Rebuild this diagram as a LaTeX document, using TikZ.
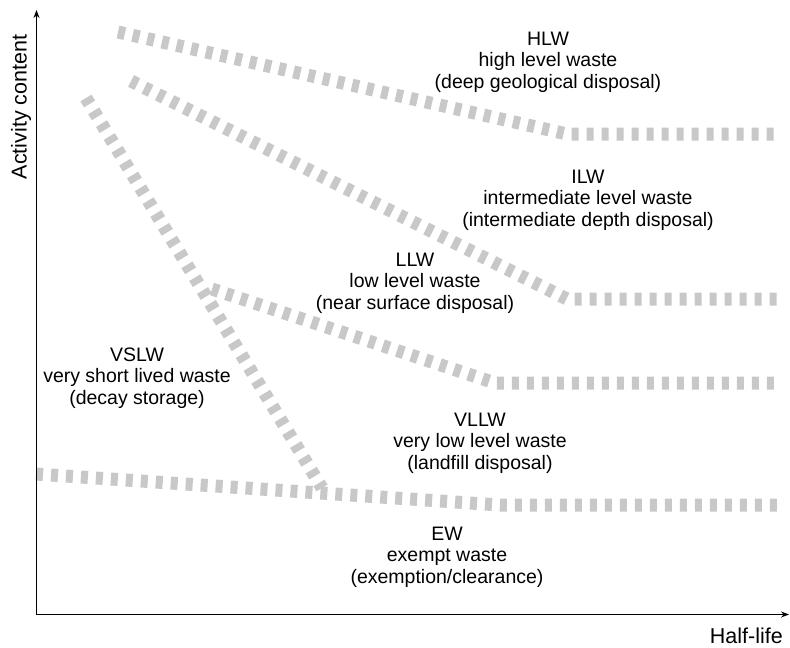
\documentclass[tikz,border=0pt]{standalone}
\usepackage{fontspec}
\setmainfont{Liberation Sans}
\usetikzlibrary{arrows.meta}
\definecolor{bandgray}{RGB}{200,200,200}
\begin{document}
\begin{tikzpicture}[x=1pt, y=-1pt, >={Stealth[length=8pt, width=6pt]},
    band/.style={draw=bandgray, line width=13pt, dash pattern=on 7pt off 8pt},
    zone/.style={align=center, inner sep=0pt, font=\fontsize{19.5}{21.5}\selectfont},
    axlabel/.style={inner sep=0pt, font=\fontsize{21.5}{24}\selectfont}]
    \useasboundingbox (0,0) rectangle (790,648);
    % boundaries between the classes
    \draw[band] (118,32) -- (567,134) -- (780,134);
    \draw[band] (131,81) -- (567,299) -- (780,299);
    \draw[band] (212,289) -- (495,383) -- (780,383);
    \draw[band] (36,474) -- (500,505) -- (780,505);
    \draw[band] (86,98) -- (322,488);
    % axes
    \coordinate (origin) at (36.5,614.5);
    \coordinate (ytip) at (36.5,10);
    \coordinate (xtip) at (789,614.5);
    \draw[->, line width=1.3pt] (origin) -- (ytip);
    \draw[->, line width=1.3pt] (origin) -- (xtip);
    \node (ylabel) [axlabel, rotate=90] at (21,107) {Activity content};
    \node (xlabel) [axlabel, anchor=base east] at (783,643) {Half-life};
    % classes
    \node (hlw) [zone] at (548,62) {HLW\\high level waste\\(deep geological disposal)};
    \node (ilw) [zone] at (588,200) {ILW\\intermediate level waste\\(intermediate depth disposal)};
    \node (llw) [zone] at (415,283) {LLW\\low level waste\\(near surface disposal)};
    \node (vslw) [zone] at (137,378) {VSLW\\very short lived waste\\(decay storage)};
    \node (vllw) [zone] at (480,443) {VLLW\\very low level waste\\(landfill disposal)};
    \node (ew) [zone] at (447,557) {EW\\exempt waste\\(exemption/clearance)};
\end{tikzpicture}
\end{document}
